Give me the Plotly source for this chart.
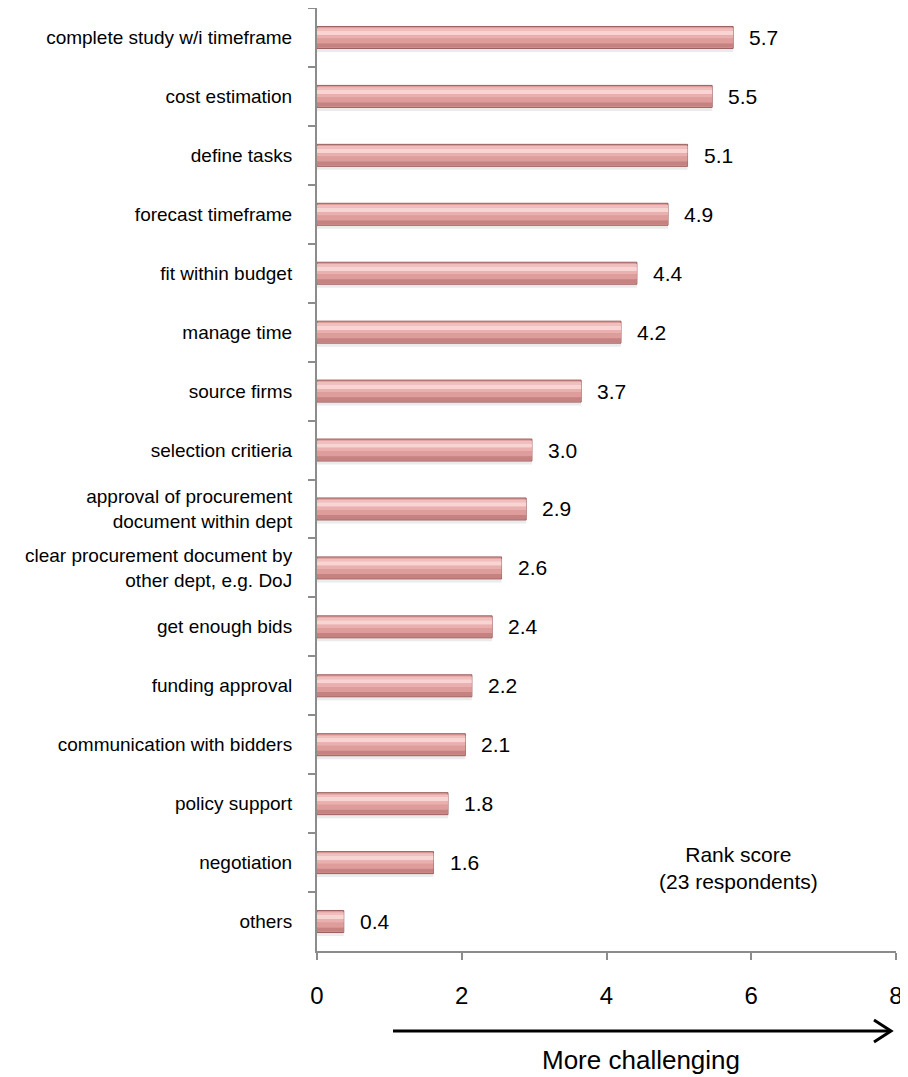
import plotly.graph_objects as go

categories = [
    "complete study w/i timeframe",
    "cost estimation",
    "define tasks",
    "forecast timeframe",
    "fit within budget",
    "manage time",
    "source firms",
    "selection critieria",
    "approval of procurement<br>document within dept",
    "clear procurement document by<br>other dept, e.g. DoJ",
    "get enough bids",
    "funding approval",
    "communication with bidders",
    "policy support",
    "negotiation",
    "others",
]
values = [5.75, 5.46, 5.12, 4.85, 4.42, 4.20, 3.65, 2.97, 2.89, 2.55, 2.42, 2.14, 2.05, 1.81, 1.61, 0.37]
value_labels = ["5.7", "5.5", "5.1", "4.9", "4.4", "4.2", "3.7", "3.0", "2.9", "2.6", "2.4", "2.2", "2.1", "1.8", "1.6", "0.4"]
x_ticks = [0, 2, 4, 6, 8]

FONT = "Liberation Sans, Arial, sans-serif"
PAGE_OFF = 8  # default body margin of the html page
W, H = 900, 1069
L, R, T, B = 309, 12, 0, 126
PW, PH = W - L - R, H - T - B

def px_to_paper(px, py):
    fx, fy = px - PAGE_OFF, py - PAGE_OFF
    return (fx - L) / PW, (H - B - fy) / PH

BW = 0.373
OFF0 = -BW / 2

def band(f0, f1):
    return dict(width=BW * (f1 - f0), offset=OFF0 + BW * f0)

fig = go.Figure()
# soft shadow
fig.add_trace(go.Bar(x=values, y=categories, orientation="h", width=BW, offset=OFF0 + 0.06,
                     marker=dict(color="rgba(0,0,0,0.08)", line=dict(width=0)), hoverinfo="skip"))
# base with outline
fig.add_trace(go.Bar(x=values, y=categories, orientation="h", width=BW, offset=OFF0,
                     marker=dict(color="#dd9b9a", line=dict(color="#9a5e5d", width=1)), hoverinfo="skip"))
layers = [((0.08, 0.20), "#efbebd"), ((0.20, 0.40), "#f8d4d3"), ((0.40, 0.55), "#eab0af"),
          ((0.55, 0.78), "#de9c9b"), ((0.78, 0.96), "#c58281")]
for (f0, f1), col in layers:
    fig.add_trace(go.Bar(x=values, y=categories, orientation="h", **band(f0, f1),
                         marker=dict(color=col, line=dict(width=0)), hoverinfo="skip"))

annotations = []
for c, v, lab in zip(categories, values, value_labels):
    annotations.append(dict(x=v, y=c, xref="x", yref="y", text=lab, showarrow=False,
                            xanchor="left", xshift=14, font=dict(size=21, color="black", family=FONT)))

ax, ay = px_to_paper(738, 868)
annotations.append(dict(x=ax, y=ay, xref="paper", yref="paper", text="Rank score<br>(23 respondents)",
                        showarrow=False, xanchor="center", yanchor="middle", align="center",
                        font=dict(size=21, color="black", family=FONT)))
mx, my = px_to_paper(641, 1060)
annotations.append(dict(x=mx, y=my, xref="paper", yref="paper", text="More challenging",
                        showarrow=False, xanchor="center", yanchor="middle",
                        font=dict(size=26, color="black", family=FONT)))

x0, y0 = px_to_paper(393, 1031)
x1, _ = px_to_paper(891, 1031)
cx, cy1 = px_to_paper(874, 1020)
_, cy2 = px_to_paper(874, 1042)
shapes = [
    dict(type="line", xref="paper", yref="paper", x0=x0, y0=y0, x1=x1, y1=y0,
         line=dict(color="black", width=3)),
    dict(type="path", xref="paper", yref="paper",
         path=f"M {cx} {cy1} L {x1} {y0} L {cx} {cy2}", line=dict(color="black", width=3)),
]

fig.update_layout(
    width=W, height=H,
    margin=dict(l=L, r=R, t=T, b=B, pad=0),
    barmode="overlay",
    showlegend=False,
    plot_bgcolor="white", paper_bgcolor="white",
    font=dict(family=FONT, color="black"),
    annotations=annotations,
    shapes=shapes,
    xaxis=dict(range=[0, 8], tickvals=x_ticks, ticktext=[str(t) for t in x_ticks],
               showgrid=False, zeroline=False, showline=True, linecolor="#8c8c8c", linewidth=2,
               ticks="outside", ticklen=7, tickwidth=2, tickcolor="#8c8c8c",
               ticklabelstandoff=15, tickfont=dict(size=24, color="black", family=FONT)),
    yaxis=dict(autorange="reversed", showgrid=False, zeroline=False, showline=True,
               linecolor="#8c8c8c", linewidth=2, ticks="outside", tickson="boundaries",
               ticklen=7, tickwidth=2, tickcolor="#8c8c8c", ticklabelstandoff=19,
               tickfont=dict(size=19, color="black", family=FONT)),
)

fig.write_html("out.html")
